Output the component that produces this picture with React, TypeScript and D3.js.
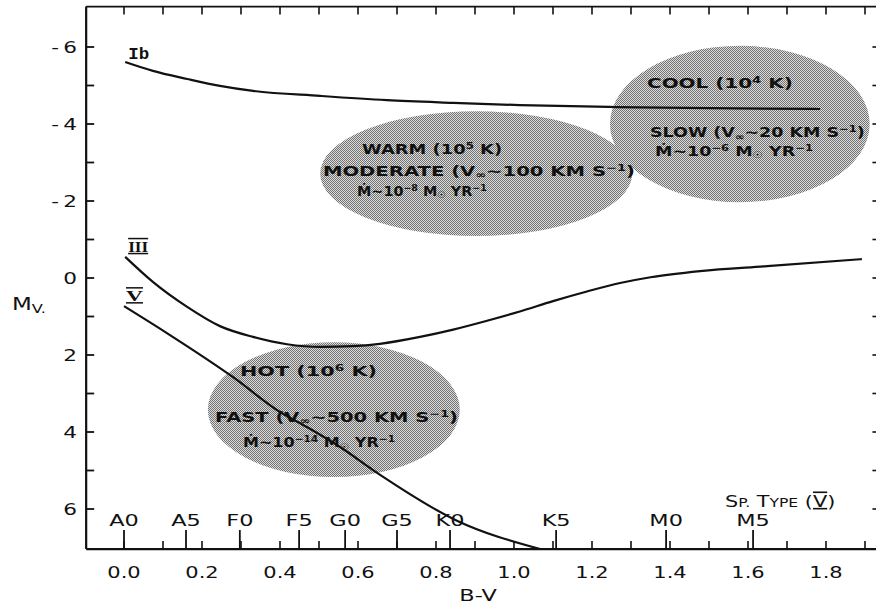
import React from "react";
import * as d3 from "d3";

const W = 876;
const H = 605;

// Axis ticks (B-V colour index and absolute visual magnitude)
const bvLabelValues = [0.0, 0.2, 0.4, 0.6, 0.8, 1.0, 1.2, 1.4, 1.6, 1.8];
const bvMinorValues = [0.0, 0.1, 0.2, 0.3, 0.4, 0.5, 0.6, 0.7, 0.8, 0.9, 1.0, 1.1, 1.2, 1.3, 1.4, 1.5, 1.6, 1.7, 1.8, 1.9];
const mvTickValues = [-6, -5, -4, -3, -2, -1, 0, 1, 2, 3, 4, 5, 6];
const mvLabelValues = [-6, -4, -2, 0, 2, 4, 6];

// Main-sequence spectral types along the B-V axis
const spectralTypes = ["A0", "A5", "F0", "F5", "G0", "G5", "K0", "K5", "M0", "M5"];
const spectralBV = [0.0, 0.159, 0.297, 0.449, 0.567, 0.7, 0.836, 1.108, 1.39, 1.613];

// Luminosity class Ib (supergiants)
const ibBV = [0.003, 0.074, 0.162, 0.246, 0.331, 0.503, 0.674, 0.844, 1.015, 1.264, 1.5, 1.785];
const ibMv = [-5.61, -5.38, -5.17, -4.99, -4.86, -4.73, -4.62, -4.55, -4.49, -4.44, -4.41, -4.39];

// Luminosity class III (giants)
const iiiBV = [0.003, 0.074, 0.162, 0.246, 0.331, 0.418, 0.503, 0.587, 0.656, 0.759, 0.844, 0.931, 1.015, 1.1, 1.187, 1.272, 1.35, 1.477, 1.649, 1.892];
const iiiMv = [-0.55, 0.1, 0.75, 1.25, 1.53, 1.72, 1.79, 1.77, 1.71, 1.53, 1.34, 1.11, 0.87, 0.6, 0.35, 0.13, -0.02, -0.18, -0.31, -0.49];

// Luminosity class V (main sequence)
const vBV = [0.0, 0.11, 0.279, 0.4, 0.469, 0.554, 0.649, 0.851, 1.067];
const vMv = [0.73, 1.43, 2.57, 3.48, 3.87, 4.39, 5.06, 6.29, 7.04];

// Wind regimes drawn as shaded ellipses (centre and half-widths in data units)
const regionNames = ["cool", "warm", "hot"];
const regionBV = [1.579, 0.903, 0.538];
const regionMv = [-4.0, -2.71, 3.42];
const regionHalfBV = [0.333, 0.4, 0.323];
const regionHalfMv = [2.03, 1.62, 1.75];

type Seg = { t: string; s?: "sup" | "sub" };

// Text lines inside the regions: anchor (centre, baseline) and width in data units
const regionLines: Seg[][] = [
  [{ t: "COOL (10" }, { t: "4", s: "sup" }, { t: " K)" }],
  [{ t: "SLOW (V" }, { t: "∞", s: "sub" }, { t: "~20 KM S" }, { t: "−1", s: "sup" }, { t: ")" }],
  [{ t: "Ṁ~10" }, { t: "−6", s: "sup" }, { t: " M" }, { t: "☉", s: "sub" }, { t: " YR" }, { t: "−1", s: "sup" }],
  [{ t: "WARM (10" }, { t: "5", s: "sup" }, { t: " K)" }],
  [{ t: "MODERATE (V" }, { t: "∞", s: "sub" }, { t: "~100 KM S" }, { t: "−1", s: "sup" }, { t: ")" }],
  [{ t: "Ṁ~10" }, { t: "−8", s: "sup" }, { t: " M" }, { t: "☉", s: "sub" }, { t: " YR" }, { t: "−1", s: "sup" }],
  [{ t: "HOT (10" }, { t: "6", s: "sup" }, { t: " K)" }],
  [{ t: "FAST (V" }, { t: "∞", s: "sub" }, { t: "~500 KM S" }, { t: "−1", s: "sup" }, { t: ")" }],
  [{ t: "Ṁ~10" }, { t: "−14", s: "sup" }, { t: " M" }, { t: "☉", s: "sub" }, { t: " YR" }, { t: "−1", s: "sup" }],
];
const regionLineBV = [1.528, 1.624, 1.564, 0.79, 0.91, 0.764, 0.473, 0.545, 0.5];
const regionLineMv = [-4.935, -3.66, -3.17, -3.22, -2.65, -2.14, 2.55, 3.74, 4.39];
const regionLineWidth = [0.374, 0.551, 0.405, 0.359, 0.8, 0.333, 0.351, 0.623, 0.39];

// Plot frame limits in data units
const bvLeft = -0.097;
const bvRight = 1.937;
const mvTop = -7.05;
const mvBottom = 7.04;

const INK = "#111";
const SANS = "'DejaVu Sans', sans-serif";

const x = d3.scaleLinear().domain([0, 1.9]).range([124, 865]);
const y = d3.scaleLinear().domain([-6, 6]).range([47, 509]);

const lineGen = d3
  .line<[number, number]>()
  .x((d) => x(d[0]))
  .y((d) => y(d[1]))
  .curve(d3.curveMonotoneX);

const zip = (a: number[], b: number[]) => a.map((v, i) => [v, b[i]] as [number, number]);

function Wide({ tx, ty, sx = 1.4, anchor = "middle", size = 16, weight = "normal", children }: any) {
  return (
    <g transform={`translate(${tx},${ty}) scale(${sx},1)`}>
      <text textAnchor={anchor} fontSize={size} fontFamily={SANS} fontWeight={weight} fill={INK}>
        {children}
      </text>
    </g>
  );
}

function RichLine({ segs, cx, by, width, size }: { segs: Seg[]; cx: number; by: number; width: number; size: number }) {
  let shift = 0;
  const spans = segs.map((s, i) => {
    const target = s.s === "sup" ? -5 : s.s === "sub" ? 2.5 : 0;
    const dy = target - shift;
    shift = target;
    return (
      <tspan key={i} dy={dy} fontSize={s.s ? size * 0.66 : size}>
        {s.t}
      </tspan>
    );
  });
  return (
    <text
      x={cx}
      y={by}
      textAnchor="middle"
      textLength={width}
      lengthAdjust="spacingAndGlyphs"
      fontFamily={SANS}
      fontWeight="bold"
      fontSize={size}
      fill={INK}
    >
      {spans}
    </text>
  );
}

export default function App() {
  const x0 = x(bvLeft);
  const x1 = x(bvRight);
  const yTop = y(mvTop);
  const yBot = y(mvBottom);

  const curves = [
    { name: "Ib", pts: zip(ibBV, ibMv) },
    { name: "III", pts: zip(iiiBV, iiiMv) },
    { name: "V", pts: zip(vBV, vMv) },
  ];

  return (
    <svg width={W} height={H} style={{ position: "absolute", left: 0, top: 0, background: "#fff" }}>
      <defs>
        <pattern id="halftone" width="2" height="2" patternUnits="userSpaceOnUse">
          <rect width="2" height="2" fill="#dcdcdc" />
          <rect width="1" height="1" fill="#727272" />
          <rect x="1" y="1" width="1" height="1" fill="#727272" />
        </pattern>
      </defs>

      {/* shaded wind regimes */}
      {regionNames.map((n, i) => (
        <ellipse
          key={n}
          cx={x(regionBV[i])}
          cy={y(regionMv[i])}
          rx={x(regionHalfBV[i]) - x(0)}
          ry={y(regionHalfMv[i]) - y(0)}
          fill="url(#halftone)"
        />
      ))}

      {/* luminosity class sequences */}
      {curves.map((c) => (
        <path key={c.name} d={lineGen(c.pts) || ""} fill="none" stroke={INK} strokeWidth={2.2} />
      ))}

      {/* region text */}
      {regionLines.map((segs, i) => (
        <RichLine
          key={i}
          segs={segs}
          cx={x(regionLineBV[i])}
          by={y(regionLineMv[i])}
          width={x(regionLineWidth[i]) - x(0)}
          size={14}
        />
      ))}

      {/* curve labels */}
      <text
        x={x(ibBV[0]) + 3}
        y={y(ibMv[0]) - 3}
        fontFamily="'Liberation Mono', monospace"
        fontWeight="bold"
        fontSize={17}
        fill={INK}
        textLength={21}
        lengthAdjust="spacingAndGlyphs"
      >
        Ib
      </text>
      <text
        x={x(iiiBV[0]) + 3}
        y={y(iiiMv[0]) - 5}
        fontFamily="'Liberation Serif', serif"
        fontWeight="bold"
        fontSize={15}
        fill={INK}
        textLength={20}
        lengthAdjust="spacingAndGlyphs"
        style={{ textDecoration: "overline underline" }}
      >
        III
      </text>
      <text
        x={x(vBV[0]) + 2}
        y={y(vMv[0]) - 5}
        fontFamily="'Liberation Serif', serif"
        fontWeight="bold"
        fontSize={15}
        fill={INK}
        textLength={17}
        lengthAdjust="spacingAndGlyphs"
        style={{ textDecoration: "overline underline" }}
      >
        V
      </text>

      {/* frame */}
      <line x1={x0} x2={x0} y1={yTop} y2={yBot} stroke={INK} strokeWidth={2.2} />
      <line x1={x0} x2={x1} y1={yBot} y2={yBot} stroke={INK} strokeWidth={2.2} />
      <line x1={x0} x2={x1} y1={yTop} y2={yTop} stroke={INK} strokeWidth={1.6} />
      <line x1={x1} x2={x1} y1={yTop} y2={yBot} stroke={INK} strokeWidth={1.6} />

      {/* left and right magnitude ticks */}
      {mvTickValues.map((m) => (
        <g key={m}>
          <line x1={x0} x2={x0 + 8} y1={y(m)} y2={y(m)} stroke={INK} strokeWidth={1.8} />
          <line x1={x1} x2={x1 - 7} y1={y(m)} y2={y(m)} stroke={INK} strokeWidth={1.6} />
        </g>
      ))}
      {mvLabelValues.map((m) => (
        <Wide key={m} tx={77} ty={y(m) + 6} anchor="end" sx={1.35} size={16}>
          {m < 0 ? `-\u2009${-m}` : `${m}`}
        </Wide>
      ))}

      {/* top and bottom B-V ticks */}
      {bvMinorValues.map((b) => (
        <g key={b}>
          <line x1={x(b)} x2={x(b)} y1={yTop} y2={yTop + 8} stroke={INK} strokeWidth={1.6} />
          <line x1={x(b)} x2={x(b)} y1={yBot} y2={yBot - 8} stroke={INK} strokeWidth={1.6} />
        </g>
      ))}
      {bvLabelValues.map((b) => (
        <Wide key={b} tx={x(b)} ty={578} sx={1.4} size={15}>
          {d3.format(".1f")(b)}
        </Wide>
      ))}

      {/* spectral type markers */}
      {spectralTypes.map((s, i) => (
        <g key={s}>
          <line x1={x(spectralBV[i])} x2={x(spectralBV[i])} y1={yBot} y2={yBot - 19} stroke={INK} strokeWidth={1.8} />
          <Wide tx={x(spectralBV[i])} ty={526} sx={1.4} size={16}>
            {s}
          </Wide>
        </g>
      ))}

      {/* axis titles */}
      <Wide tx={478} ty={601} sx={1.4} size={16}>
        B-V
      </Wide>
      <Wide tx={12} ty={310} sx={1.35} size={17} anchor="start">
        M
        <tspan fontSize={12} dy={3}>V.</tspan>
      </Wide>
      <g transform="translate(725,507) scale(1.3,1)">
        <text fontFamily={SANS} fontSize={16} fill={INK}>
          S<tspan fontSize={12}>P.</tspan> T<tspan fontSize={12}>YPE</tspan> (
          <tspan style={{ textDecoration: "overline underline" }}>V</tspan>)
        </text>
      </g>
    </svg>
  );
}
